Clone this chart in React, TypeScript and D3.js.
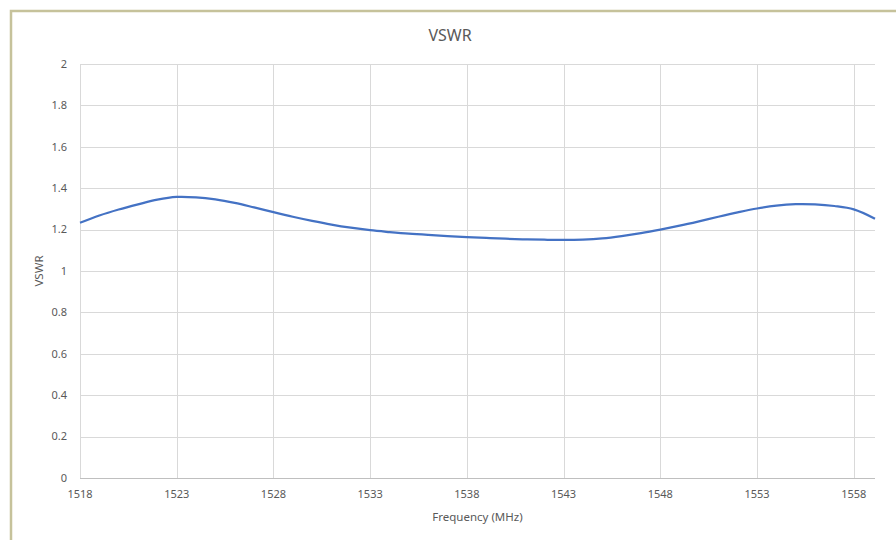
import React from "react";
import * as d3 from "d3";

const WIDTH = 896;
const HEIGHT = 540;

// frequency (MHz) and VSWR
const freqs = [
  1518, 1519, 1520, 1521, 1522, 1523, 1524, 1525, 1526, 1527, 1528, 1529, 1530,
  1531, 1532, 1533, 1534, 1535, 1536, 1537, 1538, 1539, 1540, 1541, 1542, 1543,
  1544, 1545, 1546, 1547, 1548, 1549, 1550, 1551, 1552, 1553, 1554, 1555, 1556,
  1557, 1558, 1559.1,
];
const vswr = [
  1.233, 1.268, 1.297, 1.322, 1.345, 1.358, 1.356, 1.346, 1.329, 1.307, 1.284,
  1.262, 1.242, 1.224, 1.209, 1.197, 1.188, 1.18, 1.174, 1.169, 1.164, 1.16,
  1.156, 1.153, 1.151, 1.15, 1.152, 1.158, 1.169, 1.183, 1.2, 1.219, 1.24,
  1.262, 1.283, 1.302, 1.316, 1.323, 1.322, 1.314, 1.298, 1.253,
];
const xTicks = [1518, 1523, 1528, 1533, 1538, 1543, 1548, 1553, 1558];
const yTicks = [0, 0.2, 0.4, 0.6, 0.8, 1, 1.2, 1.4, 1.6, 1.8, 2];

const FONT = "'Noto Sans', 'Open Sans', sans-serif";
const TEXT = "#595959";

const App = () => {
  const svgRef = React.useRef<SVGSVGElement>(null);

  React.useEffect(() => {
    const svg = d3.select(svgRef.current);
    svg.selectAll("*").remove();

    const left = 80, right = 875, top = 64, bottom = 478;

    const x = d3.scaleLinear().domain([1518, 1559.1]).range([left, right]);
    const y = d3.scaleLinear().domain([0, 2]).range([bottom, top]);

    svg.append("rect").attr("width", WIDTH).attr("height", HEIGHT).attr("fill", "#fff");

    // chart area frame
    svg
      .append("rect")
      .attr("x", 11)
      .attr("y", 11)
      .attr("width", 900)
      .attr("height", 600)
      .attr("fill", "#fff")
      .attr("stroke", "#c6c29b")
      .attr("stroke-width", 2.5);

    // horizontal grid
    svg
      .append("g")
      .selectAll("line")
      .data(yTicks.filter((d) => d > 0))
      .join("line")
      .attr("x1", left)
      .attr("x2", right)
      .attr("y1", (d: number) => Math.round(y(d)) + 0.5)
      .attr("y2", (d: number) => Math.round(y(d)) + 0.5)
      .attr("stroke", "#d9d9d9");

    // vertical grid
    svg
      .append("g")
      .selectAll("line")
      .data(xTicks)
      .join("line")
      .attr("x1", (d: number) => Math.round(x(d)) + 0.5)
      .attr("x2", (d: number) => Math.round(x(d)) + 0.5)
      .attr("y1", top)
      .attr("y2", bottom)
      .attr("stroke", "#d9d9d9");

    // bottom axis line
    svg
      .append("line")
      .attr("x1", left)
      .attr("x2", right)
      .attr("y1", bottom + 0.5)
      .attr("y2", bottom + 0.5)
      .attr("stroke", "#bfbfbf");

    // y tick labels
    svg
      .append("g")
      .attr("font-family", FONT)
      .attr("font-size", 11)
      .attr("fill", TEXT)
      .attr("text-anchor", "end")
      .selectAll("text")
      .data(yTicks)
      .join("text")
      .attr("x", 67)
      .attr("y", (d: number) => y(d))
      .attr("dy", "0.35em")
      .text((d: number) => d3.format("~g")(d));

    // x tick labels
    svg
      .append("g")
      .attr("font-family", FONT)
      .attr("font-size", 11)
      .attr("fill", TEXT)
      .attr("text-anchor", "middle")
      .selectAll("text")
      .data(xTicks)
      .join("text")
      .attr("x", (d: number) => x(d))
      .attr("y", 498)
      .text((d: number) => d);

    const line = d3
      .line<number>()
      .x((_d: number, i: number) => x(freqs[i]))
      .y((d: number) => y(d))
      .curve(d3.curveCatmullRom.alpha(0.5));

    svg
      .append("path")
      .datum(vswr)
      .attr("fill", "none")
      .attr("stroke", "#4472c4")
      .attr("stroke-width", 2.25)
      .attr("stroke-linejoin", "round")
      .attr("d", line);

    // titles
    svg
      .append("text")
      .attr("x", 450)
      .attr("y", 41)
      .attr("text-anchor", "middle")
      .attr("font-family", FONT)
      .attr("font-size", 16)
      .attr("fill", TEXT)
      .text("VSWR");

    svg
      .append("text")
      .attr("x", (left + right) / 2)
      .attr("y", 521)
      .attr("text-anchor", "middle")
      .attr("font-family", FONT)
      .attr("font-size", 11.5)
      .attr("fill", TEXT)
      .text("Frequency (MHz)");

    svg
      .append("text")
      .attr("transform", `translate(43,${(top + bottom) / 2}) rotate(-90)`)
      .attr("text-anchor", "middle")
      .attr("font-family", FONT)
      .attr("font-size", 11.5)
      .attr("fill", TEXT)
      .text("VSWR");
  }, []);

  return (
    <div style={{ position: "fixed", left: 0, top: 0 }}>
      <svg width={WIDTH} height={HEIGHT} ref={svgRef} style={{ display: "block" }} />
    </div>
  );
};

export default App;
